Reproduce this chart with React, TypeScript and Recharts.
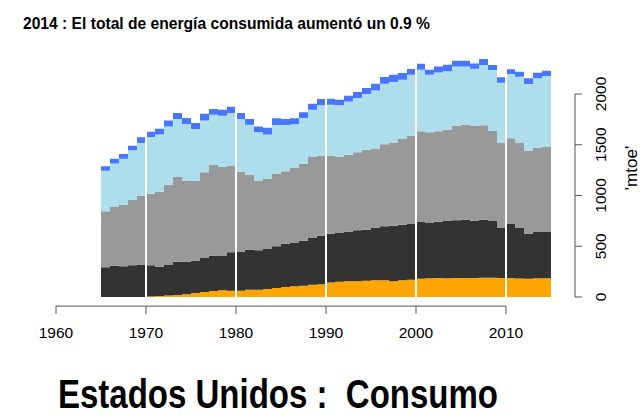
import { AreaChart, Area, XAxis, YAxis, ReferenceLine } from 'recharts'

const years = [
  1965, 1966, 1967, 1968, 1969,
  1970, 1971, 1972, 1973, 1974, 1975, 1976, 1977, 1978, 1979,
  1980, 1981, 1982, 1983, 1984, 1985, 1986, 1987, 1988, 1989,
  1990, 1991, 1992, 1993, 1994, 1995, 1996, 1997, 1998, 1999,
  2000, 2001, 2002, 2003, 2004, 2005, 2006, 2007, 2008, 2009,
  2010, 2011, 2012, 2013, 2014
]

// mtoe (bottom to top)
const nuclear = [
  0, 0, 0, 0, 0,
  5, 9, 15, 20, 27, 39, 49, 59, 66, 62,
  62, 72, 72, 79, 89, 98, 105, 112, 121, 125,
  144, 150, 154, 154, 161, 164, 164, 154, 164, 171,
  181, 184, 186, 184, 187, 186, 187, 190, 190, 186,
  187, 183, 181, 184, 184
]
const coal = [
  292, 309, 302, 312, 315,
  307, 290, 300, 328, 321, 319, 335, 348, 344, 378,
  384, 394, 388, 394, 410, 427, 433, 443, 460, 479,
  480, 480, 489, 503, 502, 516, 532, 549, 548, 548,
  564, 551, 556, 565, 568, 574, 565, 570, 560, 499,
  532, 497, 441, 456, 456
]
const oil = [
  552, 577, 604, 647, 683,
  706, 735, 791, 834, 801, 784, 844, 893, 870, 854,
  788, 736, 689, 689, 716, 713, 733, 758, 804, 788,
  768, 749, 759, 768, 788, 784, 808, 820, 844, 870,
  887, 887, 890, 899, 932, 937, 935, 931, 886, 833,
  846, 843, 819, 834, 838
]
const gas = [
  400, 430, 456, 486, 519,
  558, 568, 575, 571, 555, 513, 512, 496, 506, 518,
  519, 495, 473, 440, 479, 456, 430, 450, 460, 496,
  502, 509, 525, 535, 548, 571, 597, 595, 585, 601,
  607, 568, 581, 575, 585, 575, 563, 594, 600, 593,
  632, 647, 657, 680, 699
]
const hydro = [
  43, 46, 46, 45, 56,
  52, 56, 59, 59, 59, 59, 66, 56, 59, 63,
  59, 56, 59, 66, 66, 59, 59, 56, 59, 62,
  59, 56, 56, 59, 59, 66, 66, 72, 65, 56,
  59, 49, 59, 65, 56, 56, 50, 59, 49, 53,
  46, 49, 56, 55, 52
]

const xTicks = [1960, 1970, 1980, 1990, 2000, 2010]
const yTicks = [0, 500, 1000, 1500, 2000]
const gridYears = [1970, 1980, 1990, 2000, 2010]

const X_MIN = 1960
const X_MAX = 2017.667
const FONT = '"Liberation Sans", Arial, Helvetica, sans-serif'
const AXIS = '#555'

const rows = years.map((year, i) => ({
  year,
  nuclear: nuclear[i],
  coal: coal[i],
  oil: oil[i],
  gas: gas[i],
  hydro: hydro[i]
}))
// steps like R's type='s': the last year needs a closing point one year later
const lastRow = rows[rows.length - 1]
const data = [...rows, { ...lastRow, year: lastRow.year + 1 }]

const XTick = ({ x, y, payload }: any) => (
  <g>
    <line x1={x} x2={x} y1={y + 9} y2={y + 17} stroke={AXIS} />
    <text x={x} y={y + 41} textAnchor='middle' fontSize={15.5} fontFamily={FONT} fill='#000'>
      {payload.value}
    </text>
  </g>
)

const YTick = ({ x, y, payload }: any) => (
  <text
    transform={`translate(${x + 16},${y}) rotate(-90)`}
    textAnchor='middle'
    dominantBaseline='central'
    fontSize={15.5}
    fontFamily={FONT}
    fill='#000'
  >
    {payload.value}
  </text>
)

export default function App () {
  return (
    <div style={{ position: 'absolute', left: 0, top: 0, width: 640, height: 416, background: '#fff' }}>
      <AreaChart
        width={640}
        height={416}
        data={data}
        margin={{ top: 53.4, right: 0, left: 56, bottom: 89 }}
      >
        <XAxis
          type='number'
          dataKey='year'
          domain={[X_MIN, X_MAX]}
          ticks={xTicks}
          axisLine={false}
          tickLine={false}
          tickSize={0}
          tickMargin={0}
          height={30}
          tick={<XTick />}
          interval={0}
        />
        <YAxis
          orientation='right'
          domain={[0, 2400]}
          ticks={yTicks}
          axisLine={false}
          tickSize={7}
          tickLine={{ stroke: AXIS }}
          width={65}
          tick={<YTick />}
          interval={0}
        />
        <Area type='stepAfter' dataKey='nuclear' stackId='1' fill='#FFA500' fillOpacity={1} stroke='none' isAnimationActive={false} dot={false} activeDot={false} />
        <Area type='stepAfter' dataKey='coal' stackId='1' fill='#333333' fillOpacity={1} stroke='none' isAnimationActive={false} dot={false} activeDot={false} />
        <Area type='stepAfter' dataKey='oil' stackId='1' fill='#999999' fillOpacity={1} stroke='none' isAnimationActive={false} dot={false} activeDot={false} />
        <Area type='stepAfter' dataKey='gas' stackId='1' fill='#AEDEEC' fillOpacity={1} stroke='none' isAnimationActive={false} dot={false} activeDot={false} />
        <Area type='stepAfter' dataKey='hydro' stackId='1' fill='#4876FF' fillOpacity={1} stroke='none' isAnimationActive={false} dot={false} activeDot={false} />
        {gridYears.map(g => (
          <ReferenceLine key={g} x={g} stroke='#fff' strokeWidth={2} />
        ))}
        <ReferenceLine
          segment={[{ x: X_MIN, y: -90 }, { x: 2010, y: -90 }]}
          stroke={AXIS}
          ifOverflow='visible'
        />
        <ReferenceLine
          segment={[{ x: X_MAX, y: 0 }, { x: X_MAX, y: 2000 }]}
          stroke={AXIS}
          ifOverflow='visible'
        />
      </AreaChart>
      <svg
        width={640}
        height={416}
        style={{ position: 'absolute', left: 0, top: 0, pointerEvents: 'none' }}
      >
        <text
          x={23}
          y={29}
          fontSize={17}
          fontWeight='bold'
          fontFamily={FONT}
          textLength={407}
          lengthAdjust='spacingAndGlyphs'
        >
          2014 : El total de energía consumida aumentó un 0.9 %
        </text>
        <text
          x={58}
          y={408}
          fontSize={40}
          fontWeight='bold'
          fontFamily={FONT}
          textLength={440}
          lengthAdjust='spacingAndGlyphs'
          style={{ whiteSpace: 'pre' }}
        >
          {'Estados Unidos :  Consumo'}
        </text>
        <text
          transform='translate(631,168) rotate(-90)'
          textAnchor='middle'
          dominantBaseline='central'
          fontSize={17}
          fontFamily={FONT}
        >
          'mtoe'
        </text>
      </svg>
    </div>
  )
}
